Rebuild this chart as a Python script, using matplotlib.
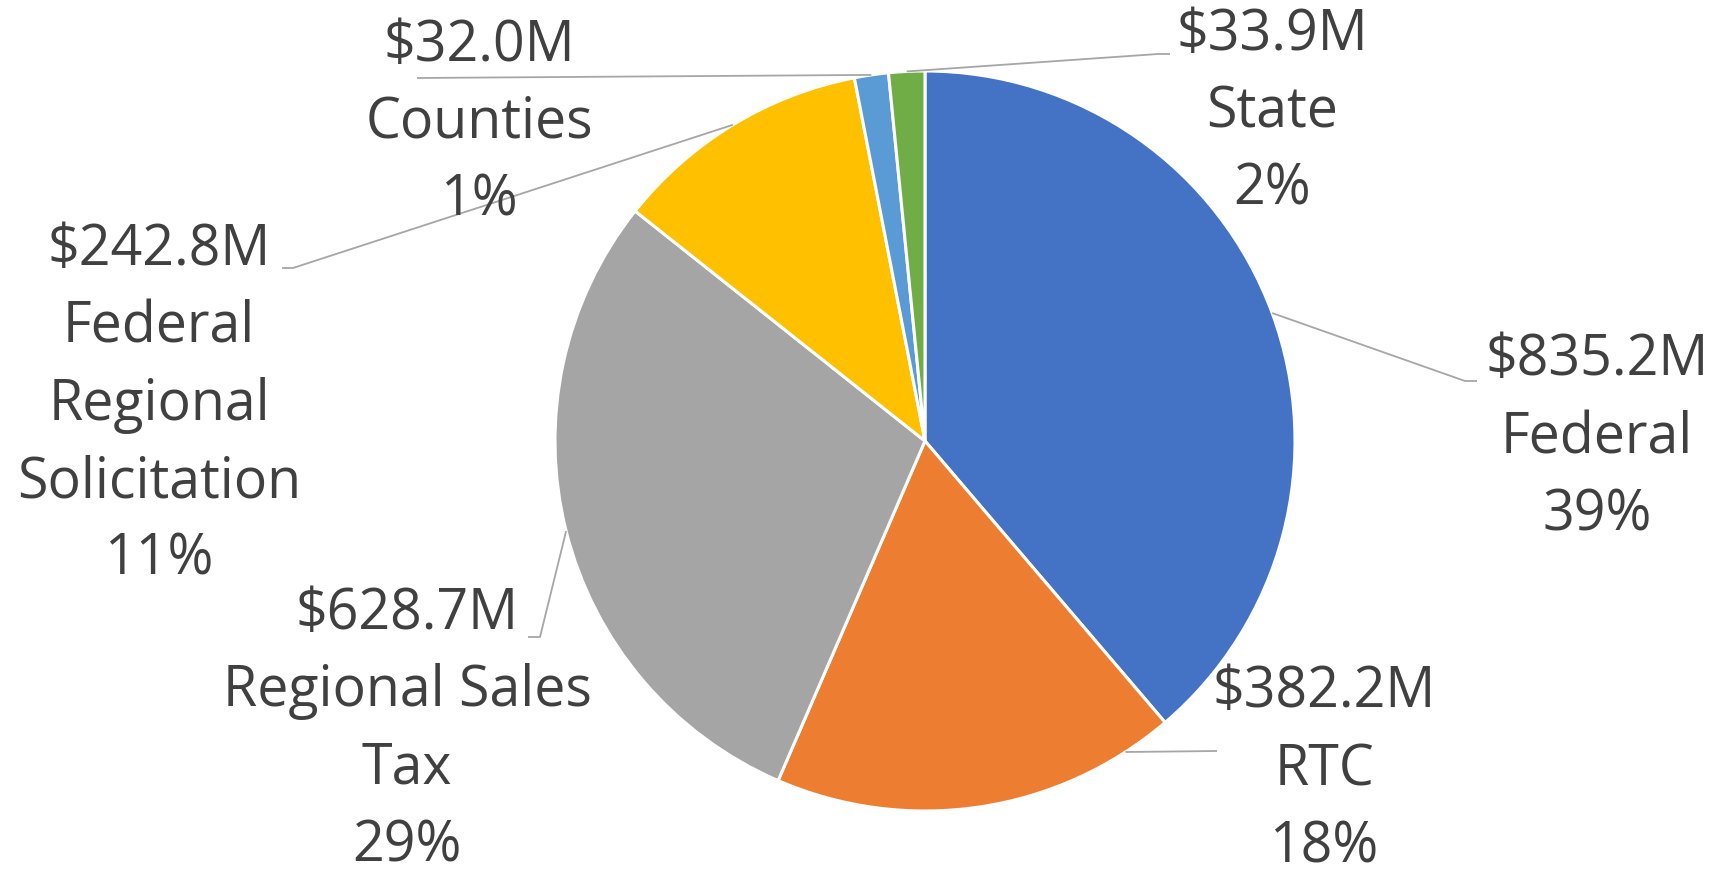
import numpy as np
import matplotlib
matplotlib.use("Agg")
import matplotlib.pyplot as plt

# ---- data ----
categories = ["Federal", "RTC", "Regional Sales\nTax", "Federal\nRegional\nSolicitation", "Counties", "State"]
values = [835.2, 382.2, 628.7, 242.8, 32.0, 33.9]
colors = ["#4472C4", "#ED7D31", "#A5A5A5", "#FFC000", "#5B9BD5", "#70AD47"]

# ---- layout (pixel positions in the 1716x877 canvas) ----
W, H = 1716, 877
CX, CY, R = 925, 441, 370          # pie centre / radius in pixels
anchor_frac = [0.5, 0.12, 0.5, 0.5, 0.5, 0.5]   # where on each wedge arc the leader starts
# leader line intermediate points (pixels) and first-line centres of labels
leader_pts = [
    [(1465, 381), (1477, 381)],
    [(1217, 751)],
    [(540, 637), (528, 637)],
    [(293, 268), (282, 268)],
    [(417, 78)],
    [(1158, 54), (1170, 54)],
]
label_pos = [(1597, 361), (1324, 693), (407, 614), (159, 250), (479, 46), (1272, 35)]
LINE_STEP = 77.5

TEXT_COLOR = "#404040"
LEADER_COLOR = "#A6A6A6"
plt.rcParams["font.family"] = ["Open Sans", "DejaVu Sans"]


def px2d(x, y):
    return (x - CX) / R, (CY - y) / R


fig = plt.figure(figsize=(W / 100, H / 100), dpi=100)
ax = fig.add_axes([0, 0, 1, 1])
wedges, _ = ax.pie(values, colors=colors, startangle=90, counterclock=False,
                   radius=1.0, center=(0, 0),
                   wedgeprops=dict(edgecolor="white", linewidth=2.2))
ax.set_xlim(-CX / R, (W - CX) / R)
ax.set_ylim(-(H - CY) / R, CY / R)
ax.set_aspect("equal", adjustable="datalim")
ax.axis("off")

total = sum(values)
for i, (w, cat, v) in enumerate(zip(wedges, categories, values)):
    # leader line
    t1, t2 = w.theta1, w.theta2
    ang = np.deg2rad(t2 - (t2 - t1) * anchor_frac[i])  # clockwise pie: go from theta2 down
    ax0, ay0 = np.cos(ang), np.sin(ang)
    xs = [ax0] + [px2d(*p)[0] for p in leader_pts[i]]
    ys = [ay0] + [px2d(*p)[1] for p in leader_pts[i]]
    ax.plot(xs, ys, color=LEADER_COLOR, lw=1.3, solid_capstyle="butt", zorder=1)

    pct = round(v / total * 100)
    lines = [f"${v:.1f}M"] + cat.split("\n") + [f"{pct}%"]
    lx, ly = label_pos[i]
    for k, line in enumerate(lines):
        dx, dy = px2d(lx, ly + k * LINE_STEP)
        ax.text(dx, dy, line, ha="center", va="center", fontsize=40,
                color=TEXT_COLOR, zorder=3)

fig.savefig("out.png", dpi=100, facecolor="white")
